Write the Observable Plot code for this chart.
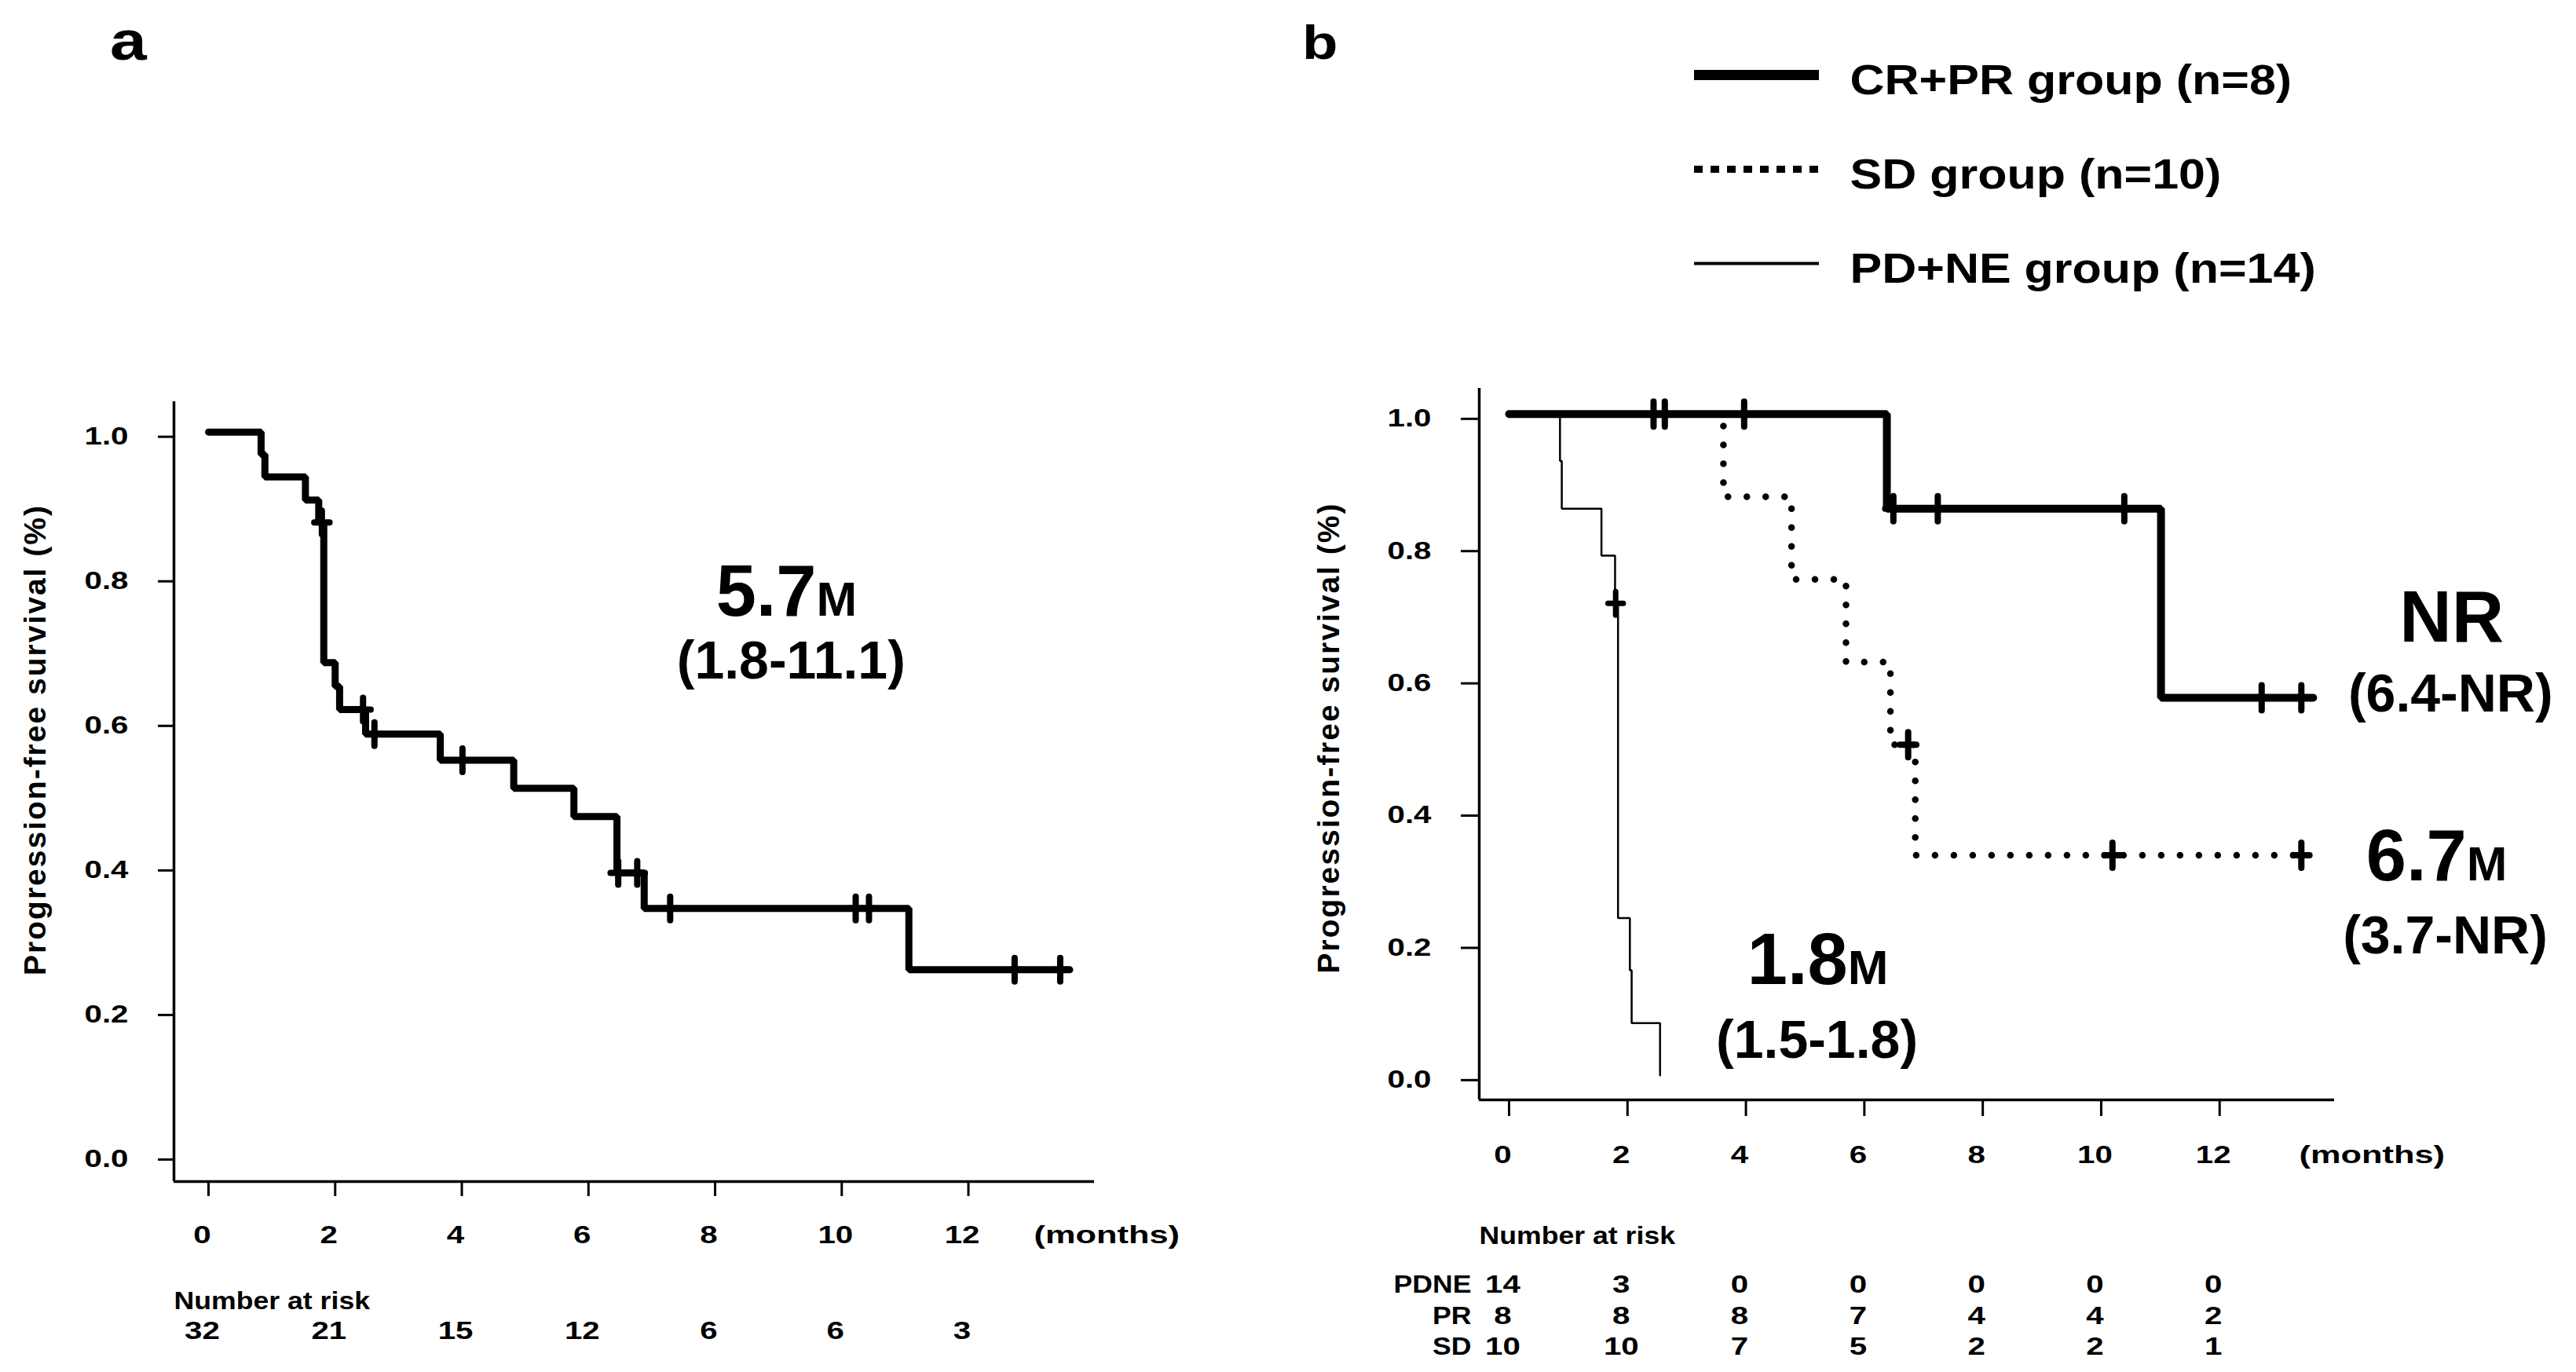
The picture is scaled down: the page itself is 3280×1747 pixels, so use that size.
<!DOCTYPE html>
<html>
<head>
<meta charset="utf-8">
<script src="https://cdn.jsdelivr.net/npm/d3@7"></script>
<script src="https://cdn.jsdelivr.net/npm/@observablehq/plot@0.6"></script>
<style>
html, body { margin: 0; padding: 0; background: #fff; }
#root { position: relative; width: 3280px; height: 1747px; overflow: hidden; background: #fff;
  font-family: "Liberation Sans", Arial, sans-serif; font-weight: bold; color: #000; }
.panel { position: absolute; top: 0; }
.tag { position: absolute; line-height: 1; transform-origin: left center; transform: scaleX(1.2); font-weight: bold; }
</style>
</head>
<body>
<div id="root"></div>
<script>
// ---------- shared ----------
const riskMonths = [0, 2, 4, 6, 8, 10, 12];
const yTicks = [0, 0.2, 0.4, 0.6, 0.8, 1.0];
const yTitle = "Progression-free survival (%)";

// ---------- panel a : all patients (n = 32) ----------
const aStepTime = [0, 0.83, 0.89, 1.53, 1.74, 1.82, 2.00, 2.07, 2.48, 3.66, 4.82, 5.77, 6.45, 6.88, 11.06, 13.6];
const aStepSurv = [1.0, 0.969, 0.938, 0.906, 0.875, 0.681, 0.648, 0.616, 0.582, 0.546, 0.507, 0.468, 0.390, 0.341, 0.256, 0.256];
const aCensorTime = [1.79, 2.44, 2.62, 4.01, 6.47, 6.77, 7.29, 10.22, 10.43, 12.73, 13.45];
const aCensorSurv = [0.875, 0.616, 0.582, 0.546, 0.390, 0.390, 0.341, 0.341, 0.341, 0.256, 0.256];
const aRisk = [32, 21, 15, 12, 6, 6, 3];
const aNoteMain = ["5.7"];
const aNoteUnit = ["M"];
const aNoteX = [9.60];
const aNoteY = [0.746];
const aNoteCI = ["(1.8-11.1)"];
const aNoteCIX = [9.20];
const aNoteCIY = [0.659];

// ---------- panel b : by response ----------
const groups = ["CR+PR group (n=8)", "SD group (n=10)", "PD+NE group (n=14)"];
const crTime = [0, 6.38, 11.01, 13.58];
const crSurv = [1.0, 0.857, 0.571, 0.571];
const crCensorTime = [3.97, 6.49, 7.24, 10.39, 12.71, 13.38];
const crCensorSurv = [1.0, 0.857, 0.857, 0.857, 0.571, 0.571];
const sdTime = [0, 3.62, 4.77, 5.69, 6.44, 6.86, 13.45];
const sdSurv = [1.0, 0.875, 0.75, 0.625, 0.5, 0.333, 0.333];
const sdCensorTime = [2.44, 2.63, 6.74, 10.19, 13.38];
const sdCensorSurv = [1.0, 1.0, 0.5, 0.333, 0.333];
const pdTime = [0, 0.86, 0.89, 1.56, 1.79, 1.84, 2.04, 2.07, 2.55];
const pdSurv = [1.0, 0.929, 0.857, 0.786, 0.714, 0.238, 0.159, 0.079, 0.0];
const pdCensorTime = [1.80];
const pdCensorSurv = [0.714];
const riskRowLabels = ["PDNE", "PR", "SD"];
const riskPDNE = [14, 3, 0, 0, 0, 0, 0];
const riskPR = [8, 8, 8, 7, 4, 4, 2];
const riskSD = [10, 10, 7, 5, 2, 2, 1];
const bNoteMain = ["NR", "6.7", "1.8"];
const bNoteUnit = ["", "M", "M"];
const bNoteX = [15.92, 16.17, 5.72];
const bNoteY = [0.656, 0.295, 0.138];
const bNoteCI = ["(6.4-NR)", "(3.7-NR)", "(1.5-1.8)"];
const bNoteCIX = [15.90, 15.81, 5.20];
const bNoteCIY = [0.550, 0.185, 0.027];

// ---------- helpers ----------
const zip = (xs, ys) => xs.map((x, i) => ({x, y: ys[i]}));
const plusSymbol = {
  draw(ctx, size) {
    const r = Math.sqrt(size / Math.PI);
    ctx.moveTo(0, -r); ctx.lineTo(0, r);
    ctx.moveTo(-0.65 * r, 0); ctx.lineTo(0.65 * r, 0);
  }
};
const FONT = '"Liberation Sans", Arial, Helvetica, sans-serif';
function stretch(svg, selector, k, shift = 0) {
  svg.querySelectorAll(selector).forEach(t => {
    const tr = t.getAttribute("transform") || "";
    t.setAttribute("transform", `${tr} translate(${shift},0) scale(${k},1)`);
  });
}
function notes(main, unit, nx, ny, ci, cx, cy) {
  const d = main.map((m, i) => ({m, u: unit[i], x: nx[i], y: ny[i], ci: ci[i], cx: cx[i], cy: cy[i]}));
  return [
    Plot.text(d.filter(e => e.u), {x: "x", y: "y", text: "m", textAnchor: "end", lineAnchor: "bottom", fontSize: 92}),
    Plot.text(d.filter(e => !e.u), {x: "x", y: "y", text: "m", textAnchor: "middle", lineAnchor: "bottom", fontSize: 92}),
    Plot.text(d.filter(e => e.u), {x: "x", y: "y", text: "u", textAnchor: "start", lineAnchor: "bottom", fontSize: 62}),
    Plot.text(d, {x: "cx", y: "cy", text: "ci", textAnchor: "middle", lineAnchor: "bottom", fontSize: 68})
  ];
}
function axes(xDomain, yDomain, tx, ty) {
  return [
    Plot.ruleX([xDomain[0]], {strokeWidth: 3.5}),
    Plot.ruleY([yDomain[0]], {strokeWidth: 3.5}),
    Plot.axisX(riskMonths, {tickSize: tx, tickPadding: 37, fontSize: 31, strokeWidth: 3, label: null, tickFormat: d => String(d)}),
    Plot.axisY(yTicks, {tickSize: ty, tickPadding: 38, fontSize: 31, strokeWidth: 3, label: null, tickFormat: d3.format(".1f"), dy: 6})
  ];
}
function postProcess(svg) {
  stretch(svg, 'g[aria-label="x-axis tick label"] text', 1.3, -8);
  stretch(svg, 'g[aria-label="y-axis tick label"] text', 1.3);
  stretch(svg, 'g[aria-description="s13"] text', 1.3);
  stretch(svg, 'g[aria-description="s12"] text', 1.15);
  stretch(svg, 'g[aria-description="s14"] text', 1.4);
  stretch(svg, 'g[aria-description="leg"] text', 1.13);
  svg.querySelectorAll('g[aria-description="ytitle"] text').forEach(t => t.style.letterSpacing = "2px");
}
const root = document.getElementById("root");

// ---------- panel a ----------
{
  const xD = [-0.546, 13.99], yD = [-0.037, 1.042];
  const riskTab = riskMonths.map((m, i) => ({m, n: aRisk[i]}));
  const svg = Plot.plot({
    width: 1640, height: 1747,
    marginLeft: 221, marginRight: 247, marginTop: 511, marginBottom: 243,
    x: {domain: xD}, y: {domain: yD},
    style: {fontFamily: FONT, fontWeight: "bold", fontSize: "31px", background: "transparent", overflow: "visible", color: "#000"},
    marks: [
      ...axes(xD, yD, 19, 20),
      Plot.line(zip(aStepTime, aStepSurv), {x: "x", y: "y", curve: "step-after", stroke: "#000", strokeWidth: 9, strokeLinejoin: "miter", strokeLinecap: "round"}),
      Plot.dot(zip(aCensorTime, aCensorSurv), {x: "x", y: "y", symbol: plusSymbol, r: 15, stroke: "#000", fill: "none", strokeWidth: 8, strokeLinecap: "round"}),
      ...notes(aNoteMain, aNoteUnit, aNoteX, aNoteY, aNoteCI, aNoteCIX, aNoteCIY),
      Plot.text([yTitle], {text: d => d, frameAnchor: "left", rotate: -90, dx: -176, dy: -66, fontSize: 39, lineAnchor: "middle", textAnchor: "middle", ariaDescription: "ytitle"}),
      Plot.text(["(months)"], {text: d => d, frameAnchor: "bottom-right", dx: -77, dy: 78, textAnchor: "start", lineAnchor: "bottom", fontSize: 31, ariaDescription: "s14"}),
      Plot.text(["Number at risk"], {text: d => d, frameAnchor: "bottom-left", dy: 162, textAnchor: "start", lineAnchor: "bottom", fontSize: 31, ariaDescription: "s12"}),
      Plot.text(riskTab, {x: "m", text: "n", frameAnchor: "bottom", dx: -8, dy: 200, lineAnchor: "bottom", fontSize: 31, ariaDescription: "s13"})
    ]
  });
  postProcess(svg);
  const div = document.createElement("div");
  div.className = "panel"; div.style.left = "0px";
  div.appendChild(svg);
  root.appendChild(div);
}

// ---------- panel b ----------
{
  const xD = [-0.504, 13.94], yD = [-0.037, 1.039];
  const rows = [riskPDNE, riskPR, riskSD];
  const riskTab = rows.flatMap((r, j) => riskMonths.map((m, i) => ({m, n: r[i], row: j})));
  const rowDy = [245, 285, 324];
  const svg = Plot.plot({
    width: 1640, height: 1747,
    marginLeft: 243, marginRight: 308, marginTop: 494, marginBottom: 347,
    x: {domain: xD}, y: {domain: yD},
    style: {fontFamily: FONT, fontWeight: "bold", fontSize: "31px", background: "transparent", overflow: "visible", color: "#000"},
    marks: [
      ...axes(xD, yD, 21, 23),
      Plot.line(zip(pdTime, pdSurv), {x: "x", y: "y", curve: "step-after", stroke: "#000", strokeWidth: 2.5, strokeLinejoin: "miter"}),
      Plot.line(zip(sdTime, sdSurv), {x: "x", y: "y", curve: "step-after", stroke: "#000", strokeWidth: 8.5, strokeDasharray: "0 24", strokeLinecap: "round"}),
      Plot.line(zip(crTime, crSurv), {x: "x", y: "y", curve: "step-after", stroke: "#000", strokeWidth: 10, strokeLinejoin: "miter", strokeLinecap: "round"}),
      Plot.dot(zip(crCensorTime, crCensorSurv), {x: "x", y: "y", symbol: plusSymbol, r: 16, stroke: "#000", fill: "none", strokeWidth: 8, strokeLinecap: "round"}),
      Plot.dot(zip(sdCensorTime, sdCensorSurv), {x: "x", y: "y", symbol: plusSymbol, r: 16, stroke: "#000", fill: "none", strokeWidth: 8, strokeLinecap: "round"}),
      Plot.dot(zip(pdCensorTime, pdCensorSurv), {x: "x", y: "y", symbol: plusSymbol, r: 15, stroke: "#000", fill: "none", strokeWidth: 7, strokeLinecap: "round"}),
      ...notes(bNoteMain, bNoteUnit, bNoteX, bNoteY, bNoteCI, bNoteCIX, bNoteCIY),
      Plot.text([yTitle], {text: d => d, frameAnchor: "left", rotate: -90, dx: -191, dy: -8, fontSize: 39, lineAnchor: "middle", textAnchor: "middle", ariaDescription: "ytitle"}),
      Plot.text(["(months)"], {text: d => d, frameAnchor: "bottom-right", dx: -45, dy: 80, textAnchor: "start", lineAnchor: "bottom", fontSize: 31, ariaDescription: "s14"}),
      Plot.text(["Number at risk"], {text: d => d, frameAnchor: "bottom-left", dy: 183, textAnchor: "start", lineAnchor: "bottom", fontSize: 31, ariaDescription: "s12"}),
      ...rowDy.map((dy, j) => Plot.text([riskRowLabels[j]], {text: d => d, frameAnchor: "bottom-left", dx: -10, dy, textAnchor: "end", lineAnchor: "bottom", fontSize: 31, ariaDescription: "s12"})),
      ...rowDy.map((dy, j) => Plot.text(riskTab.filter(d => d.row === j), {x: "m", text: "n", frameAnchor: "bottom", dx: -8, dy, lineAnchor: "bottom", fontSize: 31, ariaDescription: "s13"}))
    ]
  });
  postProcess(svg);
  const div = document.createElement("div");
  div.className = "panel"; div.style.left = "1640px";
  div.appendChild(svg);
  root.appendChild(div);
}

// ---------- legend (panel b) ----------
{
  const svg = Plot.plot({
    width: 1000, height: 340, margin: 0,
    x: {domain: [0, 1], range: [57, 216], axis: null},
    y: {type: "point", domain: groups, range: [54, 295], padding: 0, axis: null},
    style: {fontFamily: FONT, fontWeight: "bold", background: "transparent", overflow: "visible", color: "#000"},
    marks: [
      Plot.ruleY([groups[0]], {y: d => d, x1: 0, x2: 1, stroke: "#000", strokeWidth: 13, strokeLinecap: "butt"}),
      Plot.ruleY([groups[1]], {y: d => d, x1: 0, x2: 1, stroke: "#000", strokeWidth: 9, strokeDasharray: "11 10", strokeLinecap: "butt"}),
      Plot.ruleY([groups[2]], {y: d => d, x1: 0, x2: 1, stroke: "#000", strokeWidth: 4, strokeLinecap: "butt"}),
      Plot.text(groups, {x: 1, y: d => d, text: d => d, dx: 39, dy: 24, textAnchor: "start", lineAnchor: "bottom", fontSize: 54, ariaDescription: "leg"})
    ]
  });
  postProcess(svg);
  const div = document.createElement("div");
  div.className = "panel"; div.style.left = "2100px"; div.style.top = "40px";
  div.appendChild(svg);
  root.appendChild(div);
}

// ---------- panel tags ----------
for (const [t, left, size] of [["a", 140, 70], ["b", 1658, 62]]) {
  const s = document.createElement("div");
  s.className = "tag";
  s.textContent = t;
  s.style.left = left + "px";
  s.style.fontSize = size + "px";
  s.style.top = (76 - size * 0.85) + "px";
  root.appendChild(s);
}
</script>
</body>
</html>
